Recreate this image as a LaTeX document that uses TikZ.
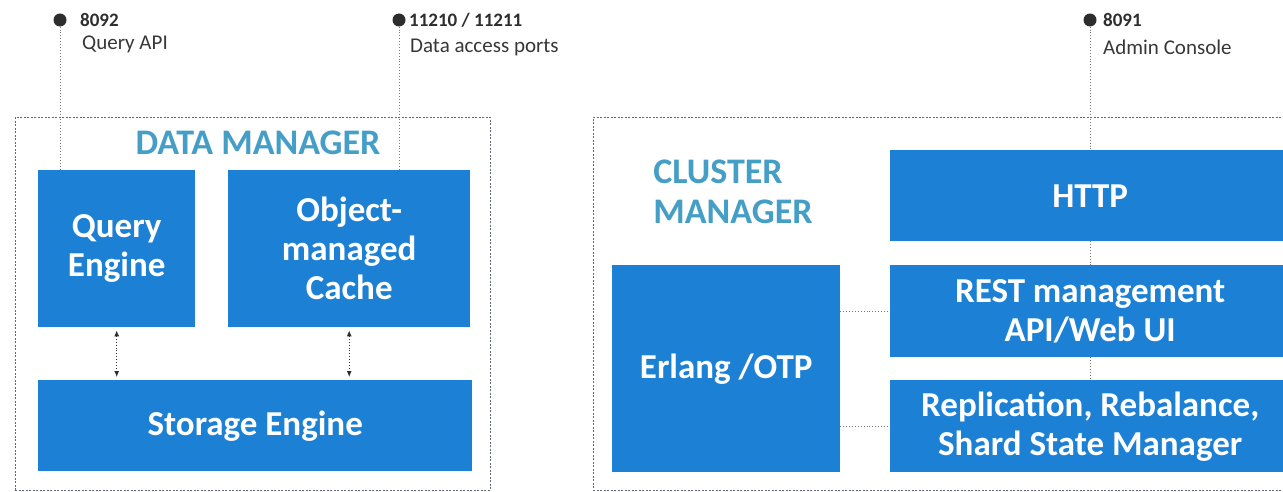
\documentclass[tikz,border=0pt]{standalone}
\usepackage{fontspec}
\setmainfont{Carlito}
\usetikzlibrary{arrows.meta,backgrounds}
\definecolor{boxblue}{RGB}{28,128,212}
\definecolor{titleteal}{RGB}{68,158,198}
\definecolor{framegray}{RGB}{95,105,120}
\definecolor{dotgray}{RGB}{45,45,45}
\definecolor{textgray}{RGB}{55,55,55}
\definecolor{linegray}{RGB}{120,120,120}
\begin{document}
\begin{tikzpicture}[x=1pt,y=-1pt,
  blk/.style={fill=boxblue, text=white, font=\bfseries\fontsize{35}{39}\selectfont, align=center, inner sep=0pt, anchor=north west},
  cont/.style={draw=framegray, dash pattern=on 2pt off 1.5pt, line width=0.8pt, inner sep=0pt, anchor=north west},
  grouptitle/.style={text=titleteal, font=\bfseries\fontsize{36}{40}\selectfont, align=left, inner sep=0pt},
  portdot/.style={circle, fill=dotgray, minimum size=13pt, inner sep=0pt},
  portnum/.style={anchor=west, inner sep=0pt, text=dotgray, font=\bfseries\fontsize{19}{22}\selectfont},
  portlbl/.style={anchor=west, inner sep=0pt, text=textgray, font=\fontsize{21}{24}\selectfont},
  link/.style={draw=linegray, dotted, line width=0.9pt},
  biarrow/.style={draw=dotgray, dotted, line width=0.9pt, {Latex[length=6pt,width=5pt]}-{Latex[length=6pt,width=5pt]}, shorten <=3pt, shorten >=3pt},
]
\useasboundingbox (0,0) rectangle (1283,492);
\clip (0,0) rectangle (1283,492);

% containers
\node[cont, minimum width=475pt, minimum height=373pt] (dm) at (15,117) {};
\node[cont, minimum width=700pt, minimum height=373pt] (cm) at (593,117) {};

% ports
\node[portdot] (p1) at (60,20) {};
\node[portdot] (p2) at (399,20) {};
\node[portdot] (p3) at (1090,20) {};
\node[portnum] (l1) at (80,20) {8092};
\node[portlbl] (l1b) at (82,44) {Query API};
\node[portnum] (l2) at (409,20) {11210 / 11211};
\node[portlbl] (l2b) at (410,47) {Data access ports};
\node[portnum] (l3) at (1103,20) {8091};
\node[portlbl] (l3b) at (1103,47) {Admin Console};

% boxes
\node[blk, minimum width=157pt, minimum height=157pt] (qe) at (38,170) {Query\\Engine};
\node[blk, minimum width=242pt, minimum height=157pt] (oc) at (228,170) {Object-\\managed\\Cache};
\node[blk, minimum width=434pt, minimum height=91pt] (se) at (38,380) {Storage Engine};
\node[blk, minimum width=400pt, minimum height=91pt] (http) at (890,150) {HTTP};
\node[blk, minimum width=400pt, minimum height=92pt] (rest) at (890,265) {REST management\\API/Web UI};
\node[blk, minimum width=400pt, minimum height=92pt] (repl) at (890,380) {Replication, Rebalance,\\Shard State Manager};
\node[blk, minimum width=228pt, minimum height=207pt] (erl) at (612,265) {Erlang /OTP};

% connectors (behind the boxes)
\begin{pgfonlayer}{background}
\draw[link] (p1) -- (p1 |- qe.north);
\draw[link] (p2) -- (p2 |- oc.north);
\draw[link] (p3) -- (p3 |- repl.north);
\draw[link] (erl.east |- rest.west) -- (rest.west);
\draw[link] (erl.east |- repl.west) -- (repl.west);
\end{pgfonlayer}
\draw[biarrow] (qe.south) -- (qe.south |- se.north);
\draw[biarrow] (oc.south) -- (oc.south |- se.north);

% titles
\node[grouptitle] (dmt) at (258,143) {DATA MANAGER};
\node[grouptitle] (cmt) at (733,192) {CLUSTER\\MANAGER};
\end{tikzpicture}
\end{document}
